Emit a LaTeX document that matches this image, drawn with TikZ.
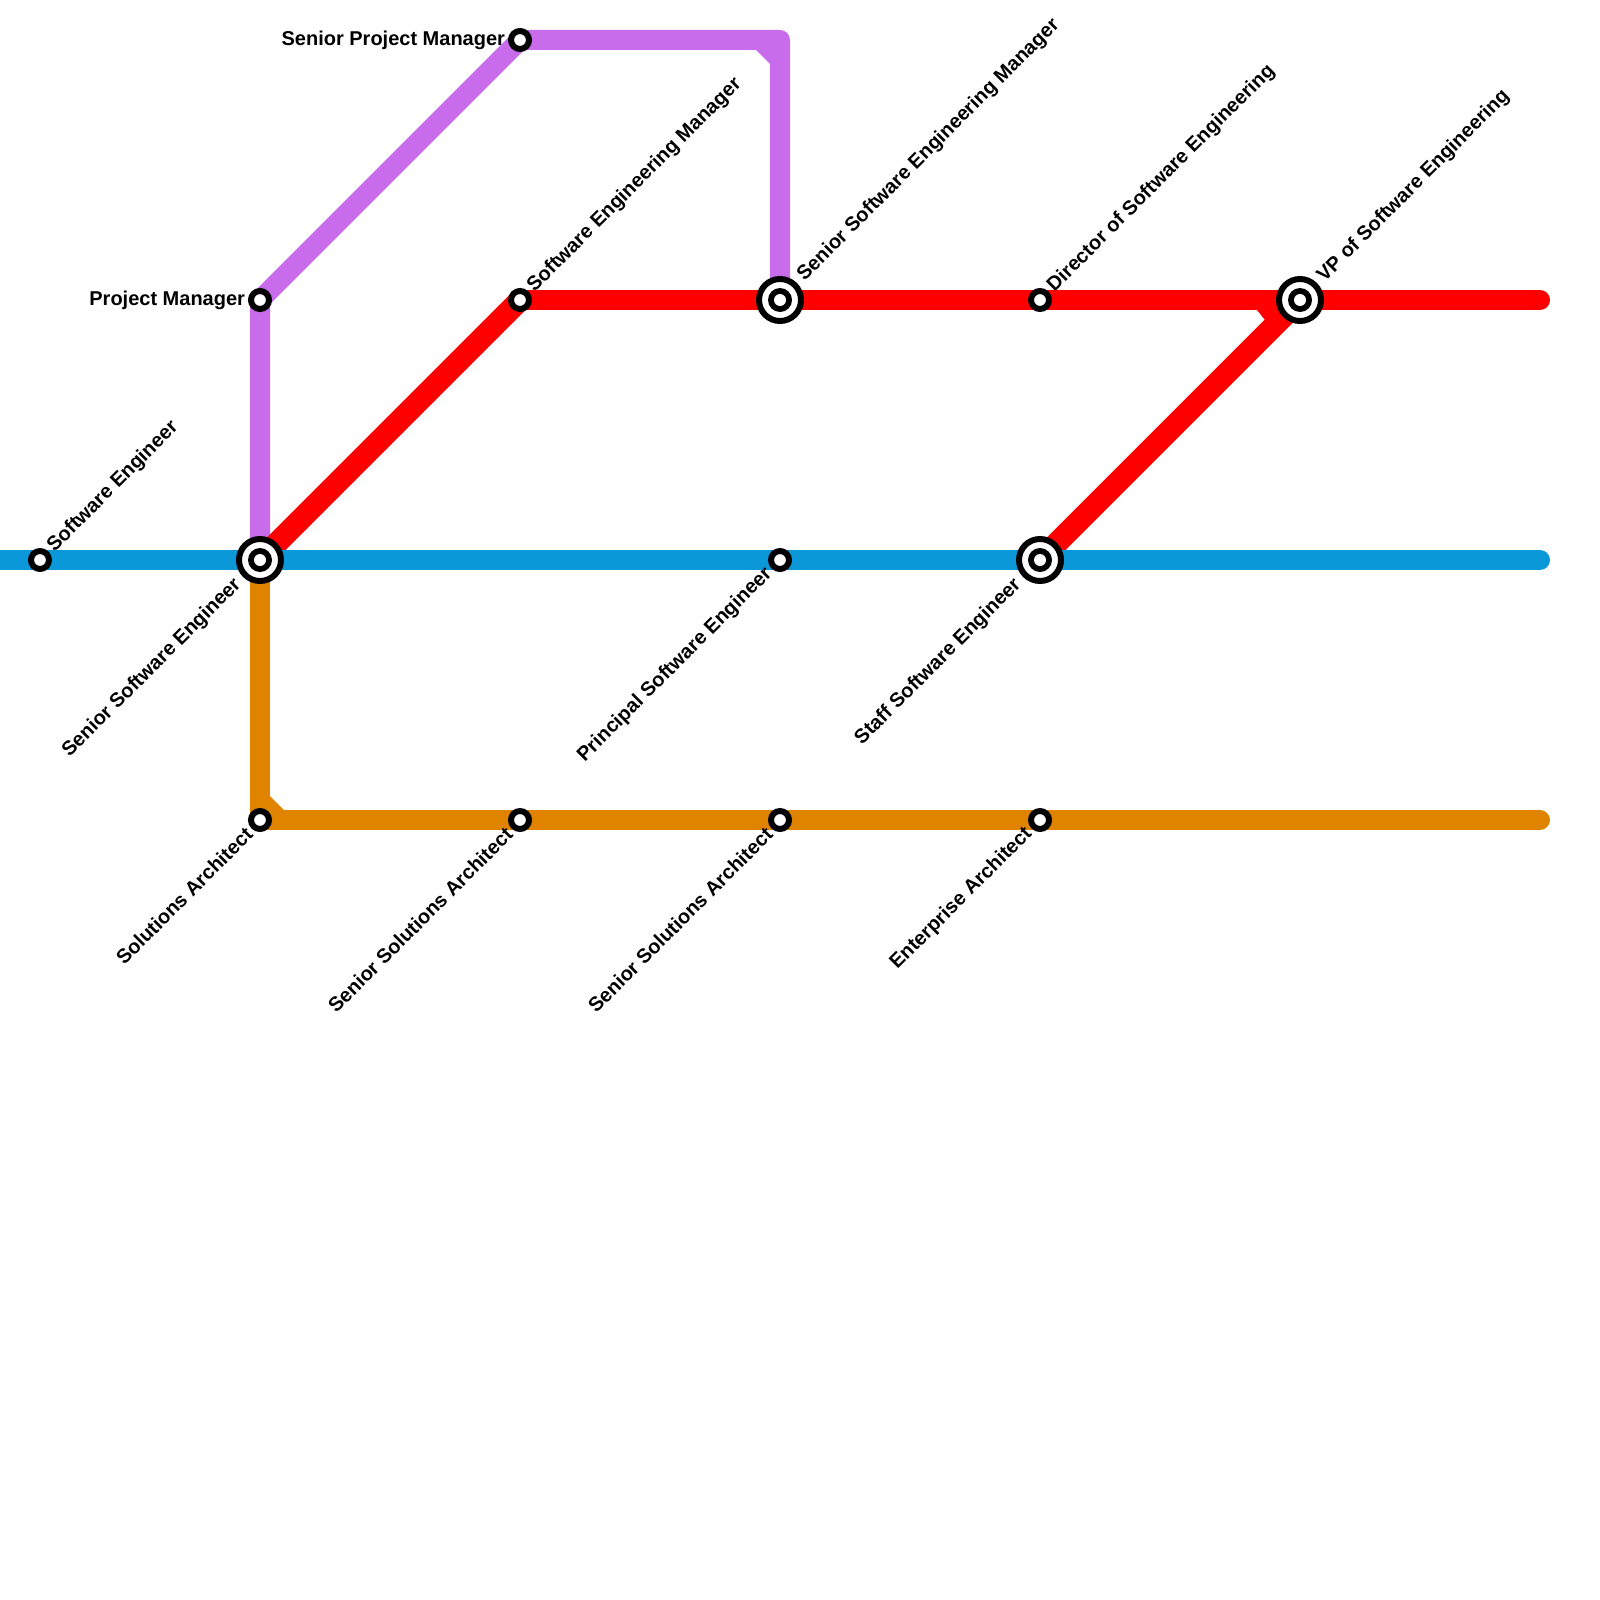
\documentclass[tikz,border=0pt]{standalone}
\usepackage{fontspec}
\setmainfont{Liberation Sans}
\definecolor{cblue}{HTML}{0A98D8}
\definecolor{cpurple}{HTML}{C86CEB}
\definecolor{cred}{HTML}{FF0000}
\definecolor{corange}{HTML}{E08400}
\tikzset{
  line/.style={line width=20pt,line join=round,line cap=round},
  diag/.style={line width=22pt,line cap=round},
  stn/.style={circle,fill=white,draw=black,line width=6pt,minimum size=18pt,inner sep=0pt,outer sep=0pt},
  big/.style={circle,fill=white,draw=black,line width=6pt,minimum size=42pt,inner sep=0pt,outer sep=0pt},
  txt/.style={font=\bfseries\fontsize{20}{22}\selectfont,text=black,inner sep=0pt,outer sep=0pt},
  up/.style={txt,rotate=45,anchor=west},
  down/.style={txt,rotate=45,anchor=east},
  lft/.style={txt,anchor=east},
}
\begin{document}
\begin{tikzpicture}[x=1pt,y=-1pt]
\useasboundingbox (0,0) rectangle (1600,1600);
\coordinate (se) at (40,560);
\coordinate (sse) at (260,560);
\coordinate (pse) at (780,560);
\coordinate (stf) at (1040,560);
\coordinate (pm) at (260,300);
\coordinate (spm) at (520,40);
\coordinate (pc) at (780,40);
\coordinate (sem) at (520,300);
\coordinate (ssem) at (780,300);
\coordinate (dse) at (1040,300);
\coordinate (vp) at (1300,300);
\coordinate (sa) at (260,820);
\coordinate (ssa) at (520,820);
\coordinate (ssb) at (780,820);
\coordinate (ea) at (1040,820);
\coordinate (bl) at (-20,560);
\coordinate (br) at (1540,560);
\coordinate (rr) at (1540,300);
\coordinate (or) at (1540,820);
% lines
\draw[line,cpurple] (sse) -- (pm) -- (spm) -- (pc) -- (ssem);
\fill[cpurple] (756,50) -- (770,50) -- (770,64) -- cycle;
\draw[line,corange] (sse) -- (sa) -- (ssa) -- (ssb) -- (ea) -- (or);
\fill[corange] (270,796) -- (270,810) -- (284,810) -- cycle;
\draw[line,cred] (sem) -- (ssem) -- (dse) -- (vp) -- (rr);
\draw[diag,cred] (sse) -- (sem);
\draw[diag,cred] (stf) -- (vp);
\fill[cred] (1257,310) -- (1280,310) -- (1265,320) -- cycle;
\draw[line,cblue] (bl) -- (se) -- (sse) -- (pse) -- (stf) -- (br);
% stations
\foreach \n in {se,pse,pm,spm,sem,dse,sa,ssa,ssb,ea}{
  \node[stn] (st\n) at (\n) {};
}
\foreach \n in {sse,stf,ssem,vp}{
  \node[big] (st\n) at (\n) {};
  \fill[black] (\n) circle (12);
  \fill[white] (\n) circle (6);
}
% labels
\node[up] (lse) at ([shift={(11,-11)}]se) {Software Engineer};
\node[down] (lsse) at ([shift={(-22,22)}]sse) {Senior Software Engineer};
\node[down] (lpse) at ([shift={(-11,11)}]pse) {Principal Software Engineer};
\node[down] (lstf) at ([shift={(-22,22)}]stf) {Staff Software Engineer};
\node[lft] (lpm) at ([xshift=-15pt]pm) {Project Manager};
\node[lft] (lspm) at ([xshift=-15pt]spm) {Senior Project Manager};
\node[up] (lsem) at ([shift={(11,-11)}]sem) {Software Engineering Manager};
\node[up] (lssem) at ([shift={(21,-22)}]ssem) {Senior Software Engineering Manager};
\node[up] (ldse) at ([shift={(11,-11)}]dse) {Director of Software Engineering};
\node[up] (lvp) at ([shift={(21,-21)}]vp) {VP of Software Engineering};
\node[down] (lsa) at ([shift={(-11,11)}]sa) {Solutions Architect};
\node[down] (lssa) at ([shift={(-11,11)}]ssa) {Senior Solutions Architect};
\node[down] (lssb) at ([shift={(-11,11)}]ssb) {Senior Solutions Architect};
\node[down] (lea) at ([shift={(-11,11)}]ea) {Enterprise Architect};
\end{tikzpicture}
\end{document}
